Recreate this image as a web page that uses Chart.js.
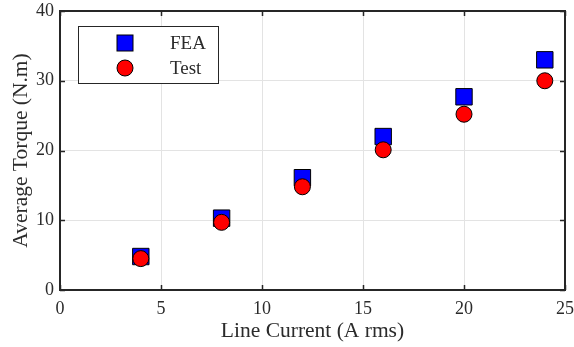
<!DOCTYPE html>
<html><head><meta charset="utf-8">
<script src="https://cdn.jsdelivr.net/npm/chart.js@4"></script>
<style>html,body{margin:0;padding:0;background:#fff}#wrap{width:574px;height:347px}</style>
</head><body><div id="wrap"><canvas id="c" width="574" height="347"></canvas></div>
<script>
const current = [4, 8, 12, 16, 20, 24];
const feaTorque = [4.8, 10.3, 16.1, 22.0, 27.7, 33.0];
const testTorque = [4.5, 9.7, 14.8, 20.1, 25.2, 30.0];
const xTicks = [0, 5, 10, 15, 20, 25];
const yTicks = [0, 10, 20, 30, 40];
const seriesLabels = ['FEA', 'Test'];
const xTitle = 'Line Current (A rms)';
const yTitle = 'Average Torque (N.m)';

const FONT = "'Liberation Serif', 'Times New Roman', serif";
const TXT = '#2b2b2b';

const framePlugin = {
  id: 'frame',
  afterDraw(chart) {
    const {ctx, chartArea: a, scales} = chart;
    ctx.save();
    ctx.strokeStyle = '#262626';
    ctx.lineWidth = 2;
    ctx.strokeRect(a.left, a.top, a.right - a.left, a.bottom - a.top);
    ctx.lineWidth = 1.5;
    const tl = 5;
    xTicks.forEach(v => {
      const x = Math.round(scales.x.getPixelForValue(v)) + 0.5;
      ctx.beginPath();
      ctx.moveTo(x, a.bottom); ctx.lineTo(x, a.bottom - tl);
      ctx.moveTo(x, a.top); ctx.lineTo(x, a.top + tl);
      ctx.stroke();
    });
    yTicks.forEach(v => {
      const y = Math.round(scales.y.getPixelForValue(v)) + 0.5;
      ctx.beginPath();
      ctx.moveTo(a.left, y); ctx.lineTo(a.left + tl, y);
      ctx.moveTo(a.right, y); ctx.lineTo(a.right - tl, y);
      ctx.stroke();
    });
    // legend box
    const bx = a.left + 18, by = a.top + 15, bw = 140, bh = 57;
    ctx.fillStyle = '#fff';
    ctx.fillRect(bx, by, bw, bh);
    ctx.strokeStyle = '#262626';
    ctx.lineWidth = 1;
    ctx.strokeRect(bx + 0.5, by + 0.5, bw, bh);
    chart.data.datasets.forEach((ds, i) => {
      const cy = by + 17 + i * 25;
      const cx = bx + 47;
      ctx.fillStyle = ds.backgroundColor;
      ctx.strokeStyle = '#000';
      ctx.lineWidth = 1;
      if (ds.pointStyle === 'rect') {
        ctx.fillRect(cx - 8, cy - 8, 16, 16);
        ctx.strokeRect(cx - 8, cy - 8, 16, 16);
      } else {
        ctx.beginPath(); ctx.arc(cx, cy, 8, 0, Math.PI * 2); ctx.fill(); ctx.stroke();
      }
      ctx.fillStyle = TXT;
      ctx.font = '19px ' + FONT;
      ctx.textBaseline = 'middle';
      ctx.textAlign = 'left';
      ctx.fillText(ds.label, bx + 92, cy + 1);
    });
    ctx.restore();
  }
};

new Chart(document.getElementById('c'), {
  type: 'scatter',
  data: {
    datasets: [
      { label: seriesLabels[0], data: current.map((x, i) => ({x, y: feaTorque[i]})),
        order: 1,
        pointStyle: 'rect', pointRadius: 11.6, pointHoverRadius: 11.6,
        backgroundColor: '#0000ff', borderColor: '#000', borderWidth: 1 },
      { label: seriesLabels[1], data: current.map((x, i) => ({x, y: testTorque[i]})),
        order: 0,
        pointStyle: 'circle', pointRadius: 8, pointHoverRadius: 8,
        backgroundColor: '#ff0000', borderColor: '#000', borderWidth: 1 }
    ]
  },
  options: {
    responsive: false, animation: false,
    layout: { autoPadding: false, padding: { top: 11, right: 9, left: 0, bottom: 0 } },
    plugins: { legend: { display: false }, tooltip: { enabled: false } },
    scales: {
      x: {
        type: 'linear', min: 0, max: 25,
        afterBuildTicks: s => { s.ticks = xTicks.map(v => ({value: v})); },
        afterFit: s => { s.height = 57; s.paddingLeft = 0; s.paddingRight = 0; },
        grid: { color: '#e3e3e3', lineWidth: 1, drawTicks: false },
        border: { display: false },
        ticks: { font: { family: FONT, size: 18 }, color: TXT, padding: 8 },
        title: { display: true, text: xTitle, font: { family: FONT, size: 21.5 }, color: TXT, padding: { top: 0, bottom: 3 } }
      },
      y: {
        type: 'linear', min: 0, max: 40,
        afterBuildTicks: s => { s.ticks = yTicks.map(v => ({value: v})); },
        afterFit: s => { s.width = 60; s.paddingTop = 0; s.paddingBottom = 0; },
        grid: { color: '#e3e3e3', lineWidth: 1, drawTicks: false },
        border: { display: false },
        ticks: { font: { family: FONT, size: 18 }, color: TXT, padding: 6 },
        title: { display: true, text: yTitle, font: { family: FONT, size: 21.5 }, color: TXT, padding: { top: 8, bottom: 0 } }
      }
    }
  },
  plugins: [framePlugin]
});
</script></body></html>
